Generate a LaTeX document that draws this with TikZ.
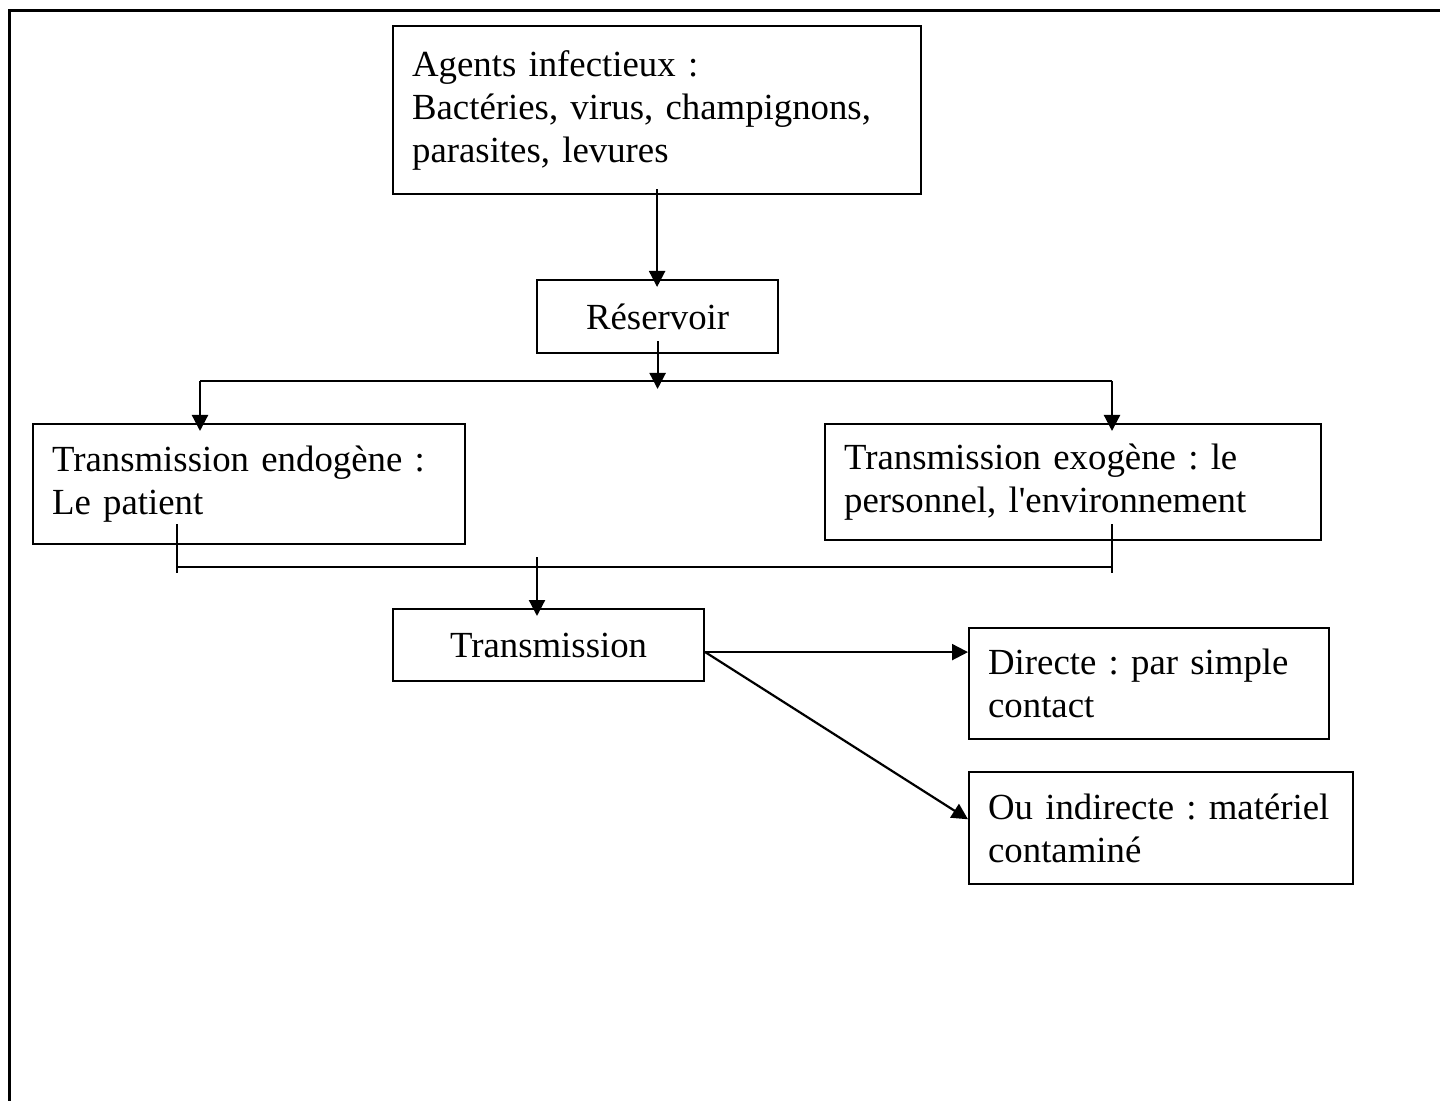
\documentclass[tikz,border=0pt]{standalone}
\usepackage{fontspec}
\setmainfont{Liberation Serif}
\usetikzlibrary{arrows.meta,positioning}

\begin{document}
\begin{tikzpicture}[x=0.5pt,y=-0.5pt,line width=1.1pt,>={Triangle[length=8pt,width=8pt]},
  box/.style={draw,anchor=north west,inner xsep=9.5pt,inner ysep=0pt,align=left,
    font=\fontsize{18.4}{21.5}\selectfont,execute at begin node=\frenchspacing},
  cbox/.style={box,align=center},
  down/.style={->,shorten >=-4pt}]

\useasboundingbox (0,0) rectangle (1440,1101);
\draw[line width=1.5pt] (9,1101) |- (1440,11);

\node[box,text width=245pt,minimum height=84pt] (agents) at (392,25)
  {Agents infectieux :\\Bactéries, virus, champignons,\\parasites, levures};
\node[cbox,text width=101.5pt,minimum height=36.5pt] (reservoir) at (536,279) {Réservoir};
\node[box,text width=197pt,minimum height=60pt] (t_endo) at (32,423)
  {Transmission endogène :\\Le patient};
\node[box,text width=229pt,minimum height=58pt] (t_exo) at (824,423)
  {Transmission exogène : le\\personnel, l\textquotesingle environnement};
\node[cbox,text width=136.5pt,minimum height=36pt] (transm) at (392,608) {Transmission};
\node[box,text width=161pt,minimum height=55.5pt] (directe) at (968,627)
  {Directe : par simple\\contact};
\node[box,text width=173pt,minimum height=56pt] (indirecte)
  [below=15.5pt of directe.south west,anchor=north west]
  {Ou indirecte : matériel\\contaminé};

\coordinate (fork_l) at (200,381);
\coordinate (fork_r) at (1112,381);
\coordinate (join_l) at (177,567);
\coordinate (join_r) at (1112,567);
\coordinate (join_m) at (537,567);
\coordinate (t_out) at ([yshift=-3.5pt]transm.east);

\draw[down,shorten <=-3pt] (agents.south) -- (agents.south |- reservoir.north);
\draw[down,shorten <=-6.5pt] (reservoir.south) -- (reservoir.south |- fork_l);
\draw (fork_l) -- (fork_r);
\draw[down] (fork_l) -- (fork_l |- t_endo.north);
\draw[down] (fork_r) -- (fork_r |- t_exo.north);
\draw ([yshift=21.5pt]join_l) -- ([yshift=-3pt]join_l);
\draw ([yshift=21.5pt]join_r) -- ([yshift=-3pt]join_r);
\draw (join_l) -- (join_r);
\draw[down] ([yshift=5pt]join_m) -- (join_m |- transm.north);
\draw[->] (t_out) -- (t_out -| directe.west);
\draw[->] (t_out) -- ([yshift=4.5pt]indirecte.west);

\end{tikzpicture}
\end{document}
